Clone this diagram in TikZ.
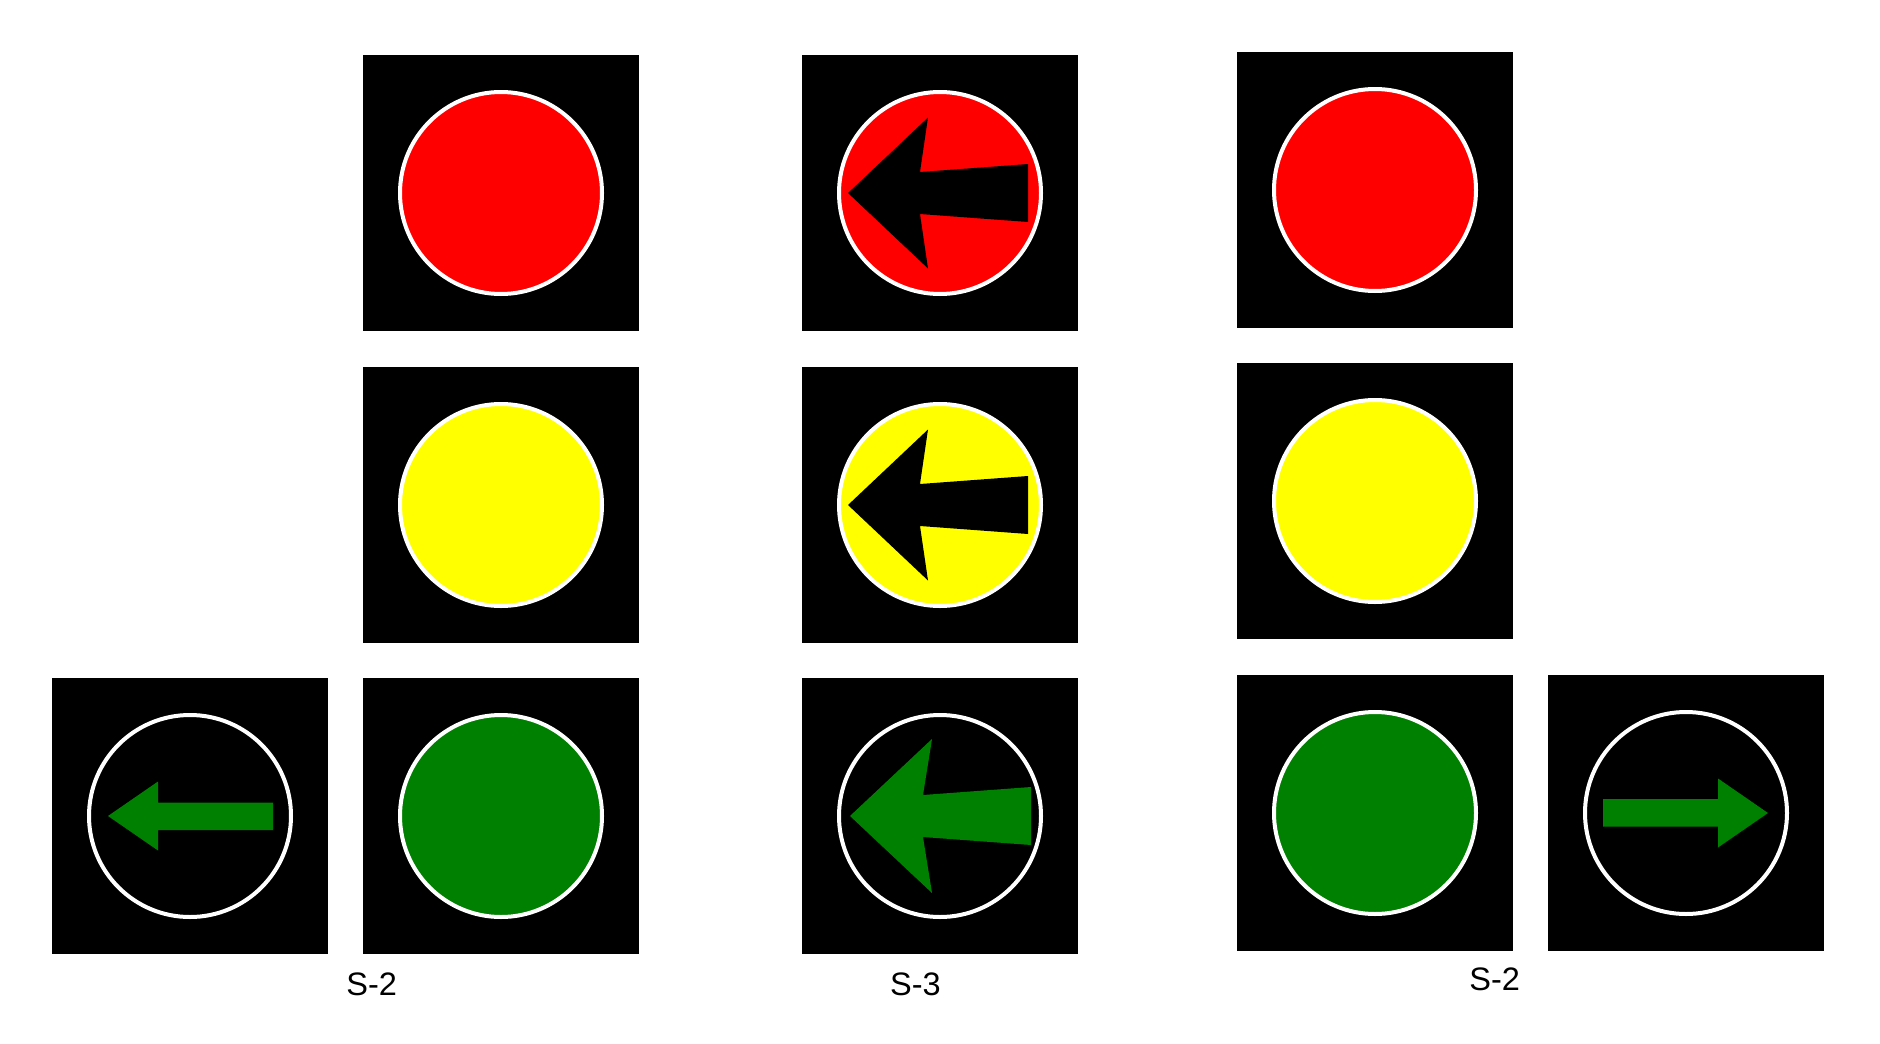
\documentclass[tikz,border=0pt]{standalone}
\usepackage{fontspec}
\setmainfont{Liberation Sans}
\definecolor{sigred}{RGB}{255,0,0}
\definecolor{sigyellow}{RGB}{255,255,0}
\definecolor{siggreen}{RGB}{0,128,0}
\newcommand{\bigleftarrow}[2]{\fill[#2, shift={(#1.center)}] (-92,0) -- (-12,-75.5) -- (-20,-21) -- (88,-29) -- (88,29) -- (-20,21) -- (-12,75.5) -- cycle;}
\newcommand{\bigleftarrowg}[2]{\fill[#2, shift={(#1.center)}] (-90,0) -- (-8,-77) -- (-17,-21) -- (91,-29) -- (91,29) -- (-17,21) -- (-8,77) -- cycle;}
\begin{document}
\begin{tikzpicture}[x=1pt,y=-1pt,
  housing/.style={rectangle, fill=black, draw=none, minimum size=276pt, inner sep=0pt},
  lamp/.style={circle, draw=white, line width=4pt, minimum size=202pt, inner sep=0pt},
  lbl/.style={font=\fontsize{32.5}{36}\selectfont, inner sep=0pt, anchor=base}]
\useasboundingbox[fill=white] (0,0) rectangle (1880,1044);
% column A (S-2 left)
\node[housing] (ha1) at (501,193) {};
\node[housing] (ha2) at (501,505) {};
\node[housing] (ha3) at (501,816) {};
\node[housing] (hl)  at (190,816) {};
\node[lamp, fill=sigred]    (la1) at (ha1.center) {};
\node[lamp, fill=sigyellow] (la2) at (ha2.center) {};
\node[lamp, fill=siggreen]  (la3) at (ha3.center) {};
\node[lamp, fill=black]     (ll)  at (hl.center) {};
\fill[siggreen, shift={(ll.center)}] (-82,0) -- (-32,-34.5) -- (-32,-13.5) -- (83,-13.5) -- (83,14) -- (-32,14) -- (-32,34.5) -- cycle;
% column B (S-3)
\node[housing] (hb1) at (940,193) {};
\node[housing] (hb2) at (940,505) {};
\node[housing] (hb3) at (940,816) {};
\node[lamp, fill=sigred]    (lb1) at (hb1.center) {};
\node[lamp, fill=sigyellow] (lb2) at (hb2.center) {};
\node[lamp, fill=black]     (lb3) at (hb3.center) {};
\bigleftarrow{lb1}{black}
\bigleftarrow{lb2}{black}
\bigleftarrowg{lb3}{siggreen}
% column C (S-2 right)
\node[housing] (hc1) at (1375,190) {};
\node[housing] (hc2) at (1375,501) {};
\node[housing] (hc3) at (1375,813) {};
\node[housing] (hr)  at (1686,813) {};
\node[lamp, fill=sigred]    (lc1) at (hc1.center) {};
\node[lamp, fill=sigyellow] (lc2) at (hc2.center) {};
\node[lamp, fill=siggreen]  (lc3) at (hc3.center) {};
\node[lamp, fill=black]     (lr)  at (hr.center) {};
\fill[siggreen, shift={(lr.center)}] (82,0) -- (32,-34.5) -- (32,-14) -- (-83,-14) -- (-83,13.5) -- (32,13.5) -- (32,34.5) -- cycle;
% labels
\node[lbl] (t1) at (371.7,995) {S-2};
\node[lbl] (t2) at (915.5,995) {S-3};
\node[lbl] (t3) at (1494.7,990.7) {S-2};
\end{tikzpicture}
\end{document}
